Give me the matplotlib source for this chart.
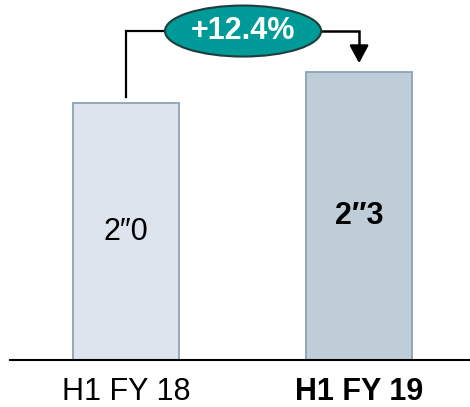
import matplotlib
matplotlib.use("Agg")
import matplotlib.pyplot as plt
from matplotlib.patches import Ellipse

plt.rcParams["font.family"] = ["Liberation Sans", "DejaVu Sans"]

# data
periods = ["H1 FY 18", "H1 FY 19"]
values = [2.0, 2.24]
value_labels = ["2\u20330", "2\u20333"]
growth_label = "+12.4%"

bar_colors = ["#dde4ed", "#bfcdd8"]
edge_color = "#8da2b3"
teal = "#009b98"

fig = plt.figure(figsize=(4.7, 4.07), dpi=100)
ax = fig.add_axes([10 / 470, 47 / 407, 460 / 470, 360 / 407])

x = [0, 1]
ax.bar(x, values, width=0.455, color=bar_colors, edgecolor=edge_color, linewidth=1.3, zorder=2)

ax.set_xlim(-0.498, 1.476)
ax.set_ylim(0, 2.8016)

for i, (v, lab) in enumerate(zip(values, value_labels)):
    ax.text(x[i], v / 2, lab, ha="center", va="center", fontsize=22,
            fontweight="bold" if i == 1 else "normal", color="black", zorder=3)

# connector with growth bubble
y_top = 2.56
ax.plot([x[0], x[0], 0.2], [values[0] + 0.047, y_top, y_top], color="black", lw=1.6, zorder=1,
        solid_joinstyle="miter")
ax.plot([0.8, x[1], x[1]], [y_top, y_top, values[1] + 0.15], color="black", lw=1.8, zorder=1,
        solid_joinstyle="miter")
ax.annotate("", xy=(x[1], values[1] + 0.07), xytext=(x[1], values[1] + 0.2),
            arrowprops=dict(arrowstyle="-|>,head_length=1.08,head_width=0.58", color="black",
                            lw=1.8, shrinkA=0, shrinkB=0))
ell = Ellipse((0.502, y_top), 0.67, 0.397, facecolor=teal, edgecolor="#1f3d3d", lw=1.5, zorder=4,
              clip_on=False)
ax.add_patch(ell)
ax.text(0.502, y_top, growth_label, ha="center", va="center", fontsize=22, fontweight="bold",
        color="white", zorder=5)

for s in ["top", "left", "right"]:
    ax.spines[s].set_visible(False)
ax.spines["bottom"].set_linewidth(1.5)
ax.set_yticks([])
ax.set_xticks(x)
ax.set_xticklabels(periods, fontsize=22)
ax.get_xticklabels()[1].set_fontweight("bold")
ax.tick_params(axis="x", length=0, pad=12)

fig.savefig("out.png", dpi=100)
